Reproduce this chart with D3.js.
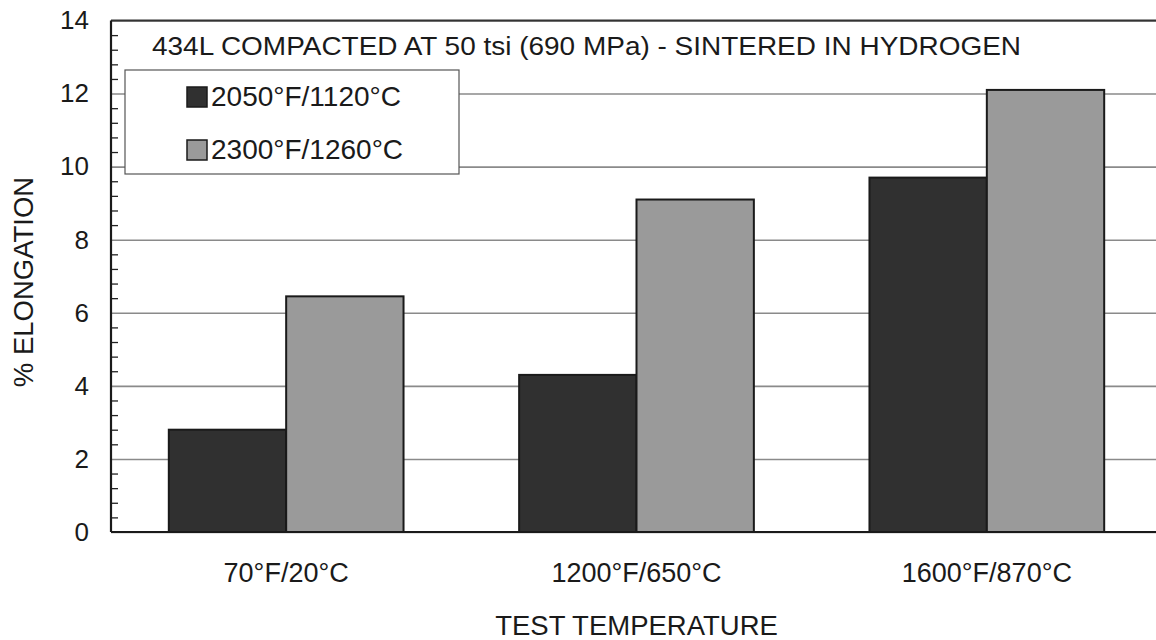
<!DOCTYPE html>
<html>
<head>
<meta charset="utf-8">
<script src="https://cdn.jsdelivr.net/npm/d3@7/dist/d3.min.js"></script>
<style>
  html, body { margin: 0; padding: 0; background: #fff; }
  svg { display: block; font-family: "Liberation Sans", Arial, sans-serif; }
</style>
</head>
<body>
<svg id="chart" width="1156" height="640"></svg>
<script>
const categories = ["70°F/20°C", "1200°F/650°C", "1600°F/870°C"];
const seriesNames = ["2050°F/1120°C", "2300°F/1260°C"];
const series2050 = [2.8, 4.3, 9.7];
const series2300 = [6.45, 9.1, 12.1];
const yTicks = [0, 2, 4, 6, 8, 10, 12, 14];
const title = "434L COMPACTED AT 50 tsi (690 MPa) - SINTERED IN HYDROGEN";
const xTitle = "TEST TEMPERATURE";
const yTitle = "% ELONGATION";

const colors = ["#303030", "#9a9a9a"];
const seriesValues = [series2050, series2300];

const svg = d3.select("#chart");
const mLeft = 111, mRight = 1162, mTop = 20.5, mBottom = 532;

const x = d3.scaleBand().domain(categories).range([mLeft, mRight]).paddingInner(0.33).paddingOuter(0.165);
const xs = d3.scaleBand().domain(seriesNames).range([0, x.bandwidth()]).padding(0);
const y = d3.scaleLinear().domain([0, 14]).range([mBottom, mTop]);

// gridlines + labels
const yAxis = svg.append("g").attr("transform", `translate(${mLeft},0)`)
  .call(d3.axisLeft(y).tickValues(yTicks).tickSize(-(mRight - mLeft)).tickPadding(22).tickFormat(d3.format("d")));
yAxis.select(".domain").remove();
yAxis.selectAll(".tick line").attr("stroke", "#8a8a8a").attr("stroke-width", 1.6);
yAxis.selectAll(".tick text").attr("font-size", 26).attr("fill", "#1a1a1a")
  .attr("font-family", "Liberation Sans, Arial, sans-serif");

// minor ticks inside
const minor = d3.range(0, 14.001, 0.4).map(v => +v.toFixed(1)).filter(v => Math.abs(v / 2 - Math.round(v / 2)) > 1e-6);
const minorAxis = svg.append("g").attr("transform", `translate(${mLeft},0)`)
  .call(d3.axisRight(y).tickValues(minor).tickSize(7).tickFormat(""));
minorAxis.select(".domain").remove();
minorAxis.selectAll(".tick line").attr("stroke", "#222").attr("stroke-width", 1.3);

// top frame line
svg.append("line").attr("x1", mLeft).attr("x2", mRight).attr("y1", y(14)).attr("y2", y(14))
  .attr("stroke", "#333").attr("stroke-width", 2);

// bars
const groups = svg.append("g").selectAll("g").data(categories).join("g")
  .attr("transform", d => `translate(${x(d)},0)`);
groups.selectAll("rect").data((d, i) => seriesNames.map((s, j) => ({ s, j, v: seriesValues[j][i] })))
  .join("rect")
  .attr("x", d => xs(d.s))
  .attr("width", xs.bandwidth())
  .attr("y", d => y(d.v))
  .attr("height", d => y(0) - y(d.v))
  .attr("fill", d => colors[d.j])
  .attr("stroke", "#1a1a1a").attr("stroke-width", 2);

// axes lines
svg.append("line").attr("x1", mLeft).attr("x2", mLeft).attr("y1", y(14)).attr("y2", y(0))
  .attr("stroke", "#1a1a1a").attr("stroke-width", 2.2);
svg.append("line").attr("x1", mLeft).attr("x2", mRight).attr("y1", y(0)).attr("y2", y(0))
  .attr("stroke", "#1a1a1a").attr("stroke-width", 2.2);

// x labels
const xAxis = svg.append("g").attr("transform", `translate(0,${mBottom})`)
  .call(d3.axisBottom(x).tickSize(0).tickPadding(31));
xAxis.select(".domain").remove();
xAxis.selectAll(".tick text").attr("font-size", 27).attr("fill", "#1a1a1a")
  .attr("font-family", "Liberation Sans, Arial, sans-serif");

// axis titles
svg.append("text").attr("x", 636.5).attr("y", 635).attr("text-anchor", "middle")
  .attr("font-size", 27.5).attr("fill", "#1a1a1a").text(xTitle);
svg.append("text").attr("transform", "translate(33,282) rotate(-90)").attr("text-anchor", "middle")
  .attr("font-size", 27.5).attr("fill", "#1a1a1a").text(yTitle);

// title
svg.append("text").attr("x", 152).attr("y", 55).attr("font-size", 26)
  .attr("textLength", 869).attr("lengthAdjust", "spacingAndGlyphs")
  .attr("fill", "#1a1a1a").text(title);

// legend
const lg = svg.append("g");
lg.append("rect").attr("x", 125).attr("y", 70).attr("width", 334).attr("height", 104)
  .attr("fill", "#fff").attr("stroke", "#555").attr("stroke-width", 1.2);
seriesNames.forEach((s, j) => {
  const yy = 87 + j * 53;
  lg.append("rect").attr("x", 187).attr("y", yy).attr("width", 20).attr("height", 20)
    .attr("fill", colors[j]).attr("stroke", "#1a1a1a").attr("stroke-width", 1.5);
  lg.append("text").attr("x", 211).attr("y", yy + 19).attr("font-size", 28).attr("fill", "#1a1a1a").text(s);
});
</script>
</body>
</html>
